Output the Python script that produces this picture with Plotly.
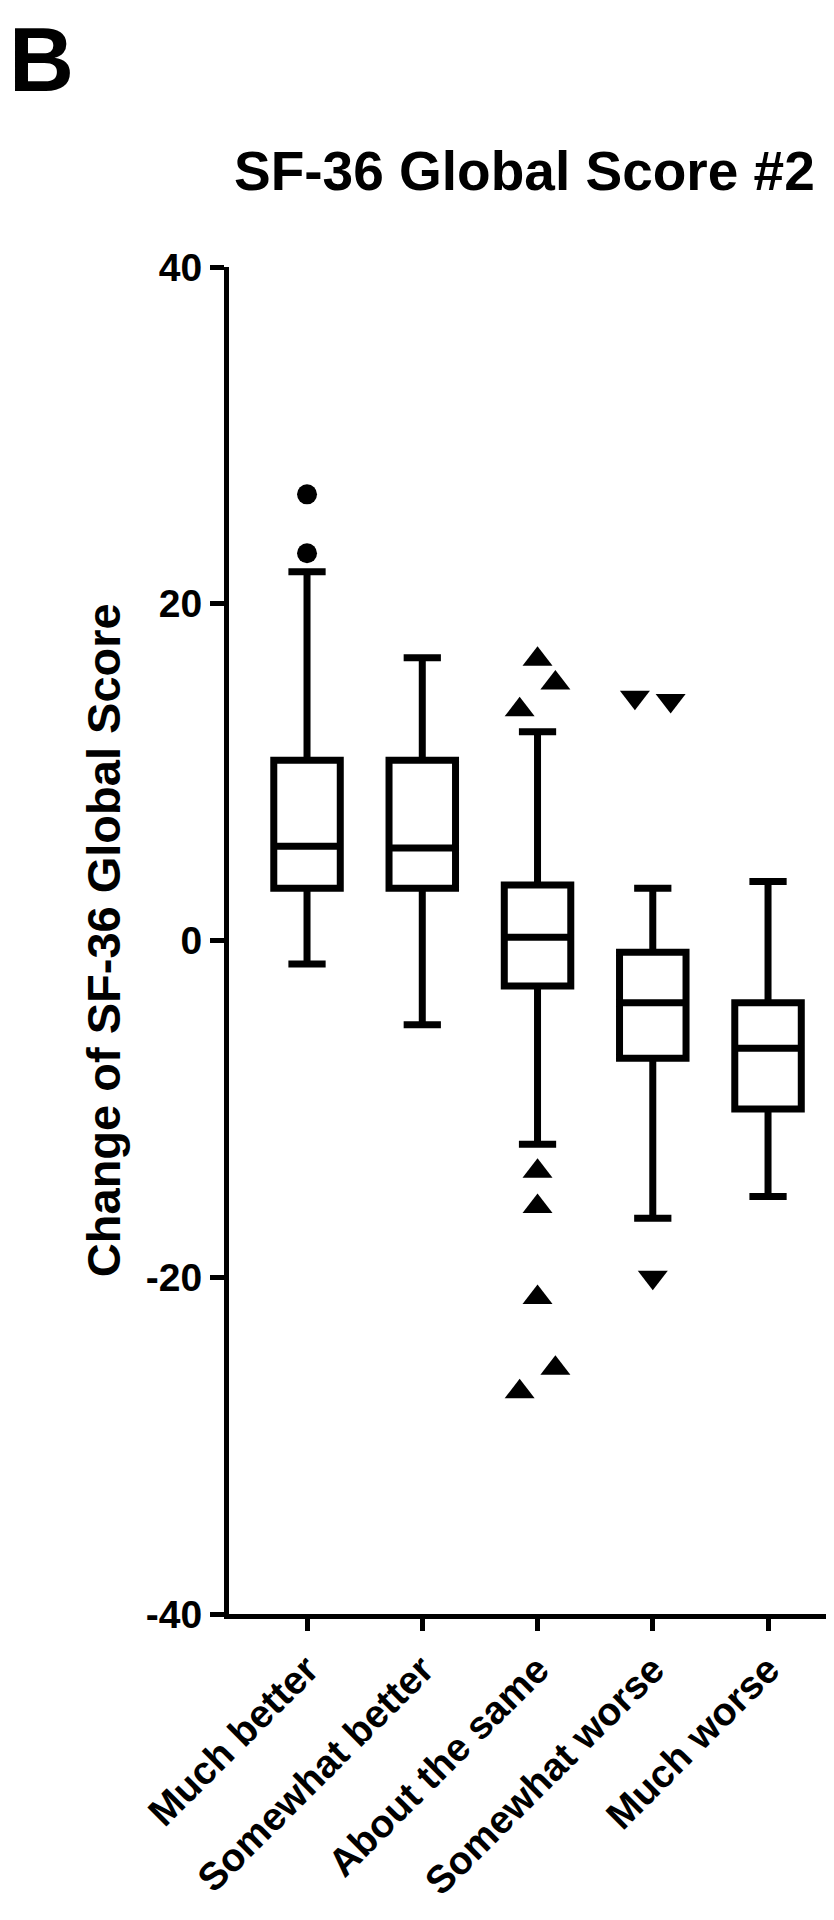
import plotly.graph_objects as go

# ---- data ----
categories = ["Much better", "Somewhat better", "About the same", "Somewhat worse", "Much worse"]
q1 = [3.1, 3.1, -2.7, -7.0, -10.0]
median = [5.6, 5.5, 0.2, -3.7, -6.4]
q3 = [10.7, 10.7, 3.3, -0.7, -3.7]
lower_whisker = [-1.4, -5.0, -12.1, -16.5, -15.2]
upper_whisker = [21.9, 16.8, 12.4, 3.1, 3.5]

# outliers per group
out_much_better = [26.5, 23.0]
out_same = [16.7, 15.3, 13.7, -13.7, -15.8, -21.2, -25.4, -26.8]
out_somewhat_worse = [14.45, 14.26, -20.0]

y_ticks = [-40, -20, 0, 20, 40]
y_tick_labels = ["-40", "-20", "0", "20", "40"]

# horizontal spreading of overlapping outlier symbols (style, not data)
spread_mb = [0, 0]
spread_same = [0, 0.155, -0.155, 0, 0, 0, 0.155, -0.155]
spread_sw = [-0.155, 0.155, 0]

FONT = "Liberation Sans, Arial, sans-serif"
pos = list(range(len(categories)))

fig = go.Figure()
fig.add_trace(go.Box(
    x=pos, q1=q1, median=median, q3=q3,
    lowerfence=lower_whisker, upperfence=upper_whisker,
    width=0.577, whiskerwidth=0.56,
    fillcolor="white", line=dict(color="black", width=7),
    boxpoints=False, showlegend=False, hoverinfo="skip",
))

fig.add_trace(go.Scatter(
    x=[pos[0] + d for d in spread_mb], y=out_much_better, mode="markers",
    marker=dict(symbol="circle", size=20, color="black"), showlegend=False,
))
fig.add_trace(go.Scatter(
    x=[pos[2] + d for d in spread_same], y=out_same, mode="markers",
    marker=dict(symbol="triangle-up", size=26, color="black"), showlegend=False,
))
fig.add_trace(go.Scatter(
    x=[pos[3] + d for d in spread_sw], y=out_somewhat_worse, mode="markers",
    marker=dict(symbol="triangle-down", size=26, color="black"), showlegend=False,
))

# the page body has an 8px margin, so the figure is sized to fit inside it
fig.update_layout(
    width=818, height=1904,
    margin=dict(l=221, r=0, t=259, b=298),
    paper_bgcolor="white", plot_bgcolor="white",
    font=dict(family=FONT, color="black", weight="bold"),
    xaxis=dict(
        range=[-0.677, 4.503], tickmode="array", tickvals=pos, ticktext=categories,
        tickangle=-45, ticks="outside", ticklen=12, tickwidth=5, tickcolor="black",
        showline=True, linecolor="black", linewidth=5, showgrid=False, zeroline=False,
        tickfont=dict(family=FONT, size=39, color="black", weight="bold"),
        ticklabelstandoff=0, automargin=False,
    ),
    yaxis=dict(
        range=[-40, 40], tickmode="array", tickvals=y_ticks, ticktext=y_tick_labels,
        ticks="outside", ticklen=14, tickwidth=5, tickcolor="black",
        showline=True, linecolor="black", linewidth=5, showgrid=False, zeroline=False,
        tickfont=dict(family=FONT, size=39, color="black", weight="bold"),
        automargin=False,
    ),
    annotations=[
        dict(text="SF-36 Global Score #2", xref="paper", yref="paper", x=0.495, y=1.071,
             xanchor="center", yanchor="middle", showarrow=False,
             font=dict(family=FONT, size=55, color="black", weight="bold")),
        dict(text="B", xref="paper", yref="paper", x=-0.3695, y=1.1918,
             xanchor="left", yanchor="top", showarrow=False, borderpad=0,
             font=dict(family=FONT, size=90, color="black", weight="bold")),
        dict(text="Change of SF-36 Global Score", xref="paper", yref="paper", x=-0.21, y=0.5,
             xanchor="center", yanchor="middle", textangle=-90, showarrow=False,
             font=dict(family=FONT, size=47, color="black", weight="bold")),
    ],
)

fig.write_html("out.html")
